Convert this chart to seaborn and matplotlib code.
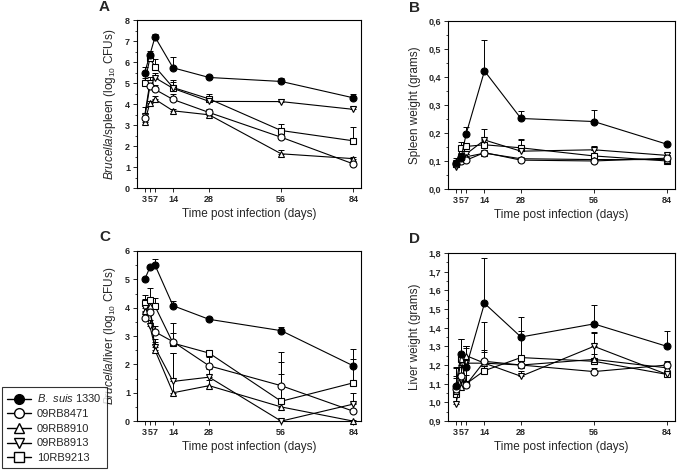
import numpy as np
import pandas as pd
import seaborn as sns
import matplotlib.pyplot as plt
from matplotlib.ticker import FuncFormatter, MultipleLocator
from matplotlib.lines import Line2D

sns.set_theme(style="ticks")
plt.rcParams['font.family'] = ['Liberation Sans', 'DejaVu Sans']
plt.rcParams['mathtext.fontset'] = 'custom'
plt.rcParams['mathtext.rm'] = 'Liberation Sans'
plt.rcParams['mathtext.it'] = 'Liberation Sans:italic'

days = [3, 5, 7, 14, 28, 56, 84]
strains = ["B. suis 1330", "09RB8471", "09RB8910", "09RB8913", "10RB9213"]
legend_labels = ["$\\it{B.\\ suis}$ 1330", "09RB8471", "09RB8910", "09RB8913", "10RB9213"]

# A: Brucella/spleen (log10 CFUs)
spleen_cfu = [
    [5.5, 6.35, 7.2, 5.73, 5.27, 5.08, 4.3],
    [3.35, 4.85, 4.7, 4.22, 3.6, 2.42, 1.15],
    [3.15, 4.05, 4.23, 3.68, 3.49, 1.63, 1.4],
    [3.45, 5.02, 5.26, 4.75, 4.13, 4.12, 3.75],
    [5.03, 6.18, 5.78, 4.79, 4.25, 2.74, 2.25],
]
spleen_cfu_err = [
    [0.25, 0.2, 0.15, 0.5, 0.08, 0.15, 0.2],
    [0.2, 0.2, 0.2, 0.25, 0.15, 0.3, 0.1],
    [0.1, 0.1, 0.15, 0.1, 0.1, 0.2, 0.1],
    [0.4, 0.25, 0.2, 0.3, 0.15, 0.1, 0.1],
    [0.2, 0.2, 0.35, 0.35, 0.25, 0.3, 0.65],
]

# B: spleen weight (grams)
spleen_wt = [
    [0.093, 0.11, 0.198, 0.422, 0.252, 0.241, 0.16],
    [0.09, 0.1, 0.103, 0.13, 0.103, 0.1, 0.11],
    [0.095, 0.11, 0.115, 0.128, 0.108, 0.105, 0.105],
    [0.08, 0.115, 0.125, 0.175, 0.135, 0.14, 0.12],
    [0.09, 0.147, 0.152, 0.158, 0.147, 0.118, 0.1],
]
spleen_wt_err = [
    [0.01, 0.02, 0.022, 0.11, 0.028, 0.04, 0.005],
    [0.01, 0.01, 0.01, 0.01, 0.005, 0.005, 0.01],
    [0.01, 0.01, 0.01, 0.01, 0.005, 0.005, 0.005],
    [0.02, 0.01, 0.01, 0.04, 0.04, 0.015, 0.01],
    [0.02, 0.02, 0.01, 0.02, 0.03, 0.02, 0.01],
]

# C: Brucella/liver (log10 CFUs)
liver_cfu = [
    [5.0, 5.42, 5.5, 4.07, 3.59, 3.19, 1.95],
    [3.65, 3.85, 3.15, 2.8, 1.95, 1.25, 0.35],
    [3.9, 4.05, 2.5, 1.0, 1.25, 0.5, 0.0],
    [4.0, 3.35, 2.6, 1.4, 1.55, 0.0, 0.6],
    [4.18, 4.28, 4.05, 2.75, 2.4, 0.7, 1.35],
]
liver_cfu_err = [
    [0.05, 0.05, 0.2, 0.18, 0.05, 0.12, 0.6],
    [0.2, 0.2, 0.2, 0.3, 0.3, 0.85, 0.3],
    [0.3, 0.3, 0.3, 1.4, 0.2, 1.15, 0.05],
    [0.3, 0.2, 0.3, 1.0, 0.3, 0.05, 0.4],
    [0.25, 0.4, 0.3, 0.7, 0.1, 1.75, 0.85],
]

# D: liver weight (grams)
liver_wt = [
    [1.087, 1.26, 1.19, 1.53, 1.35, 1.42, 1.30],
    [1.07, 1.14, 1.095, 1.22, 1.20, 1.165, 1.20],
    [1.06, 1.08, 1.25, 1.21, 1.20, 1.23, 1.185],
    [0.99, 1.12, 1.21, 1.21, 1.14, 1.30, 1.15],
    [1.045, 1.23, 1.10, 1.17, 1.24, 1.22, 1.15],
]
liver_wt_err = [
    [0.1, 0.08, 0.11, 0.24, 0.105, 0.1, 0.08],
    [0.06, 0.05, 0.05, 0.21, 0.03, 0.02, 0.02],
    [0.08, 0.08, 0.05, 0.06, 0.04, 0.03, 0.03],
    [0.08, 0.08, 0.08, 0.07, 0.03, 0.075, 0.04],
    [0.14, 0.11, 0.2, 0.04, 0.14, 0.15, 0.06],
]

markers = ['o', 'o', '^', 'v', 's']
faces = ['black', 'white', 'white', 'white', 'white']

fig = plt.figure(figsize=(6.85, 4.70), dpi=100)
axA = fig.add_axes([0.200, 0.600, 0.327, 0.357])
axB = fig.add_axes([0.654, 0.598, 0.331, 0.357])
axC = fig.add_axes([0.200, 0.104, 0.327, 0.362])
axD = fig.add_axes([0.654, 0.104, 0.331, 0.358])


def draw_panel(ax, values, errors, ylim, major, minor, ylabel, letter, comma):
    # draw in reverse so B. suis ends on top
    for i in reversed(range(len(strains))):
        df = pd.DataFrame({'day': days, 'value': values[i]})
        ax.errorbar(days, values[i], yerr=[np.zeros(len(days)), errors[i]],
                    fmt='none', ecolor='black', elinewidth=0.7, capsize=2,
                    capthick=0.7, zorder=2)
        sns.lineplot(data=df, x='day', y='value', ax=ax, color='black',
                     linewidth=0.8, marker=markers[i], markersize=5,
                     markerfacecolor=faces[i], markeredgecolor='black',
                     markeredgewidth=0.8, zorder=3, clip_on=False)
    ax.set_xlim(0, 87)
    ax.set_ylim(*ylim)
    ax.set_xticks(days)
    ax.set_xticklabels([str(d) for d in days], fontsize=6.5, fontweight='bold')
    ax.yaxis.set_major_locator(MultipleLocator(major))
    ax.yaxis.set_minor_locator(MultipleLocator(minor))
    if comma:
        ax.yaxis.set_major_formatter(FuncFormatter(lambda v, p: f"{v:.1f}".replace('.', ',')))
    else:
        ax.yaxis.set_major_formatter(FuncFormatter(lambda v, p: f"{v:.0f}"))
    for t in ax.get_yticklabels():
        t.set_fontsize(6.5)
        t.set_fontweight('bold')
    ax.tick_params(axis='both', which='major', length=3, width=0.7, pad=2)
    ax.tick_params(axis='y', which='minor', length=1.5, width=0.6)
    for s in ax.spines.values():
        s.set_linewidth(0.8)
        s.set_color('black')
    ax.set_xlabel("Time post infection (days)", fontsize=8.5, labelpad=3)
    ax.set_ylabel(ylabel, fontsize=8.5, labelpad=5)
    ax.text(-0.17, 1.08, letter, transform=ax.transAxes, fontsize=11,
            fontweight='bold', va='center', ha='left')


draw_panel(axA, spleen_cfu, spleen_cfu_err, (0, 8), 1, 0.5,
           "$\\it{Brucella}$/spleen (log$_{10}$ CFUs)", "A", False)
draw_panel(axB, spleen_wt, spleen_wt_err, (0, 0.6), 0.1, 0.05,
           "Spleen weight (grams)", "B", True)
draw_panel(axC, liver_cfu, liver_cfu_err, (0, 6), 1, 0.5,
           "$\\it{Brucella}$/liver (log$_{10}$ CFUs)", "C", False)
draw_panel(axD, liver_wt, liver_wt_err, (0.9, 1.8), 0.1, 0.05,
           "Liver weight (grams)", "D", True)

handles = [Line2D([0], [0], color='black', linewidth=1.0, marker=m, markersize=7,
                  markerfacecolor=f, markeredgecolor='black', markeredgewidth=1.0)
           for m, f in zip(markers, faces)]
leg = fig.legend(handles, legend_labels, loc='lower left',
                 bbox_to_anchor=(0.003, 0.004), borderaxespad=0, fontsize=8,
                 frameon=True, fancybox=False, handlelength=2.2,
                 handletextpad=0.5, labelspacing=0.42, borderpad=0.45)
leg.get_frame().set_edgecolor('black')
leg.get_frame().set_linewidth(0.8)

fig.savefig("out.png", dpi=100)
